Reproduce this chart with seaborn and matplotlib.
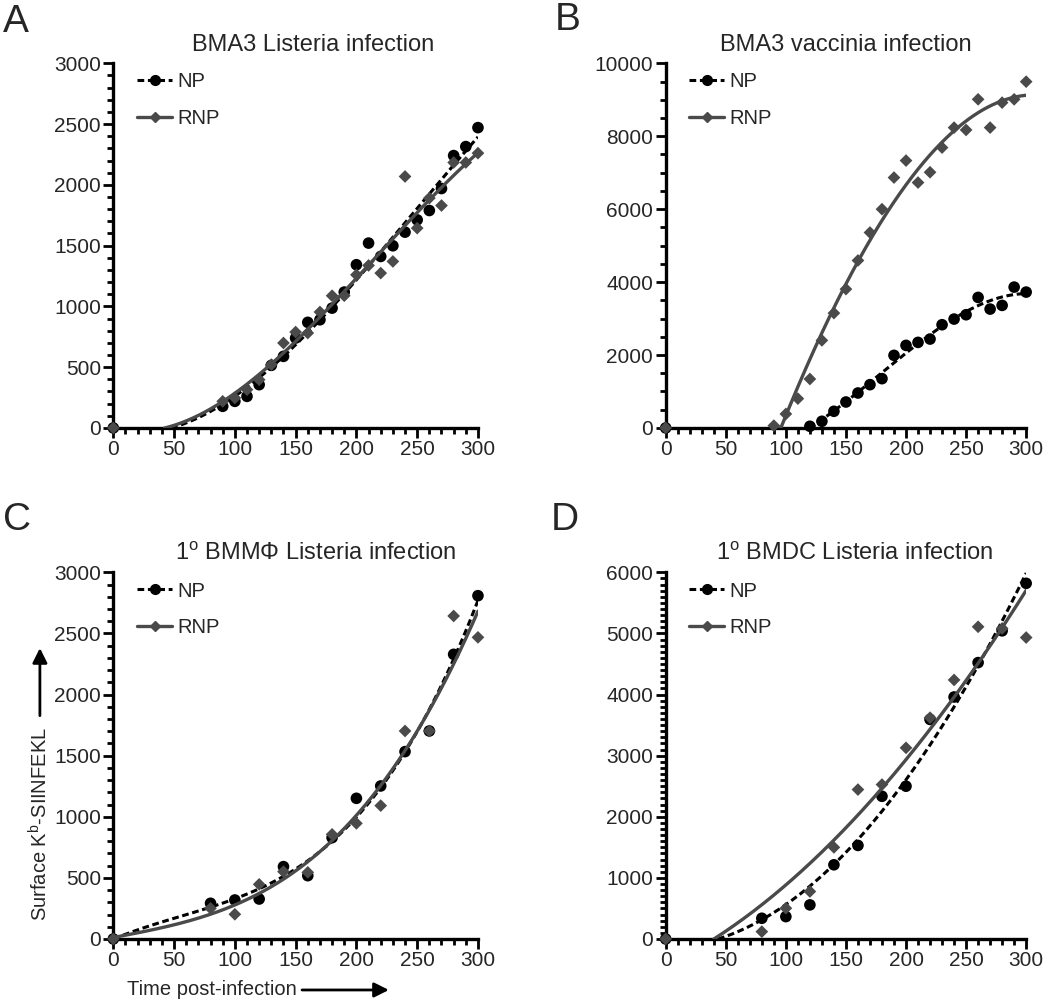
import numpy as np
import pandas as pd
import matplotlib
matplotlib.use("Agg")
import matplotlib.pyplot as plt
import seaborn as sns
from matplotlib.lines import Line2D
from matplotlib.ticker import MultipleLocator

sns.set_style("ticks")
plt.rcParams['font.family'] = ['Liberation Sans', 'DejaVu Sans']
plt.rcParams['mathtext.fontset'] = 'custom'
plt.rcParams['mathtext.rm'] = 'Liberation Sans'
plt.rcParams['mathtext.it'] = 'Liberation Sans:italic'

# ---- data ----
a_time = [0, 90, 100, 110, 120, 130, 140, 150, 160, 170, 180, 190, 200, 210, 220, 230, 240, 250, 260, 270, 280, 290, 300]
a_np = [0, 178, 219, 260, 356, 515, 589, 740, 869, 890, 986, 1118, 1343, 1521, 1411, 1499, 1611, 1712, 1789, 1970, 2241, 2315, 2471]
a_rnp = [0, 219, 247, 315, 397, 521, 699, 789, 781, 954, 1088, 1088, 1260, 1337, 1274, 1370, 2069, 1644, 1891, 1830, 2184, 2184, 2261]

b_time_np = [0, 120, 130, 140, 150, 160, 170, 180, 190, 200, 210, 220, 230, 240, 250, 260, 270, 280, 290, 300]
b_np = [0, 46, 183, 457, 712, 959, 1187, 1352, 1991, 2265, 2347, 2438, 2831, 2986, 3105, 3580, 3260, 3361, 3863, 3726]
b_time_rnp = [0, 90, 100, 110, 120, 130, 140, 150, 160, 170, 180, 190, 200, 210, 220, 230, 240, 250, 260, 270, 280, 290, 300]
b_rnp = [0, 64, 384, 804, 1342, 2402, 3150, 3808, 4593, 5360, 6000, 6867, 7333, 6730, 7013, 7689, 8237, 8173, 9013, 8237, 8922, 9013, 9497]

c_time = [0, 80, 100, 120, 140, 160, 180, 200, 220, 240, 260, 280, 300]
c_np = [0, 292, 319, 327, 592, 518, 829, 1151, 1252, 1533, 1702, 2329, 2809]
c_rnp = [0, 251, 202, 447, 551, 545, 856, 946, 1091, 1702, 1702, 2643, 2468]

d_time = [0, 80, 100, 120, 140, 160, 180, 200, 220, 240, 260, 280, 300]
d_np = [0, 339, 366, 558, 1214, 1531, 2335, 2500, 3593, 3960, 4523, 5043, 5820]
d_rnp = [0, 120, 503, 777, 1499, 2445, 2527, 3128, 3621, 4239, 5109, 5082, 4933]

titles = ["BMA3 Listeria infection", "BMA3 vaccinia infection",
          r"1$^{\mathrm{o}}$ BMM$\Phi$ Listeria infection", r"1$^{\mathrm{o}}$ BMDC Listeria infection"]
letters = ["A", "B", "C", "D"]

NP_COLOR = "black"
RNP_COLOR = "#4a4a4a"


def fit_curve(x, y, deg, keep_zero=True):
    # polynomial fit, drawn from where it crosses zero
    x = np.asarray(x, float)
    y = np.asarray(y, float)
    m = np.ones_like(x, bool) if keep_zero else x > 0
    p = np.polyfit(x[m], y[m], deg)
    xs = np.linspace(0, 300, 601)
    ys = np.polyval(p, xs)
    first = x[x > 0].min()
    below = np.where((ys <= 0) & (xs < first))[0]
    start = below[-1] if len(below) else 0
    return xs[start:], np.clip(ys[start:], 0, None)


panels = [
    dict(np_x=a_time, np_y=a_np, rnp_x=a_time, rnp_y=a_rnp, ymax=3000, major=500, minor=100,
         fit_np=(3, True), fit_rnp=(3, True), tx=0.548),
    dict(np_x=b_time_np, np_y=b_np, rnp_x=b_time_rnp, rnp_y=b_rnp, ymax=10000, major=2000, minor=500,
         fit_np=(3, True), fit_rnp=(3, False), tx=0.5),
    dict(np_x=c_time, np_y=c_np, rnp_x=c_time, rnp_y=c_rnp, ymax=3000, major=500, minor=100,
         fit_np=(3, True), fit_rnp=(3, True), tx=0.555),
    dict(np_x=d_time, np_y=d_np, rnp_x=d_time, rnp_y=d_rnp, ymax=6000, major=1000, minor=100,
         fit_np=(2, True), fit_rnp=(2, True), tx=0.525),
]

positions = [
    [0.1079, 0.5729, 0.3473, 0.3639],
    [0.634, 0.5729, 0.3433, 0.3639],
    [0.1079, 0.0629, 0.3473, 0.3659],
    [0.634, 0.0629, 0.3433, 0.3659],
]
letter_pos = [(0.003, 0.978), (0.528, 0.98), (0.003, 0.481), (0.525, 0.481)]

fig = plt.figure(figsize=(10.5, 10.02), dpi=100)

for i, pn in enumerate(panels):
    ax = fig.add_axes(positions[i])
    df_np = pd.DataFrame({"time": pn["np_x"], "value": pn["np_y"]})
    df_rnp = pd.DataFrame({"time": pn["rnp_x"], "value": pn["rnp_y"]})

    fx, fy = fit_curve(pn["np_x"], pn["np_y"], *pn["fit_np"])
    rx, ry = fit_curve(pn["rnp_x"], pn["rnp_y"], *pn["fit_rnp"])

    sns.scatterplot(data=df_np, x="time", y="value", ax=ax, color=NP_COLOR, marker="o",
                    s=70, edgecolor="none", clip_on=False, zorder=3, legend=False)
    ax.plot(fx, fy, color=NP_COLOR, lw=2.2, linestyle=(0, (2.2, 1.2)), zorder=4)
    sns.scatterplot(data=df_rnp, x="time", y="value", ax=ax, color=RNP_COLOR, marker="D",
                    s=42, edgecolor="none", clip_on=False, zorder=5, legend=False)
    ax.plot(rx, ry, color=RNP_COLOR, lw=2.4, zorder=6)

    ax.set_xlim(0, 300)
    ax.set_ylim(0, pn["ymax"])
    ax.xaxis.set_major_locator(MultipleLocator(50))
    ax.xaxis.set_minor_locator(MultipleLocator(10))
    ax.yaxis.set_major_locator(MultipleLocator(pn["major"]))
    ax.yaxis.set_minor_locator(MultipleLocator(pn["minor"]))
    ax.tick_params(which="major", length=7, width=2, labelsize=15, pad=2, color="black")
    ax.tick_params(which="minor", length=4, width=2, color="black")
    ax.set_xlabel("")
    ax.set_ylabel("")
    sns.despine(ax=ax)
    for s in ["left", "bottom"]:
        ax.spines[s].set_linewidth(2.4)
        ax.spines[s].set_color("black")

    ax.text(pn["tx"], 1.05, titles[i], transform=ax.transAxes, ha="center", va="center", fontsize=17)

    handles = [
        Line2D([], [], color=NP_COLOR, lw=2.2, linestyle=(0, (2.2, 1.2)), marker="o", markersize=7),
        Line2D([], [], color=RNP_COLOR, lw=2.4, marker="D", markersize=5),
    ]
    ax.legend(handles, ["NP", "RNP"], loc="upper left", bbox_to_anchor=(0.065, 0.975), frameon=False,
              fontsize=14.5, handlelength=1.75, handletextpad=0.25, labelspacing=0.85,
              borderpad=0, borderaxespad=0)

    fig.text(letter_pos[i][0], letter_pos[i][1], letters[i], fontsize=28, ha="left", va="center")

# axis labels with arrows (only on panel C)
fig.text(0.038, 0.178, r"Surface K$^{\mathrm{b}}$-SIINFEKL", rotation=90, ha="center", va="center", fontsize=14.5)
fig.add_artist(matplotlib.patches.FancyArrowPatch((0.038, 0.283), (0.038, 0.356), transform=fig.transFigure,
                                                  arrowstyle="-|>", mutation_scale=22, lw=2, color="black"))
fig.text(0.202, 0.012, "Time post-infection", ha="center", va="center", fontsize=14.5)
fig.add_artist(matplotlib.patches.FancyArrowPatch((0.285, 0.012), (0.373, 0.012), transform=fig.transFigure,
                                                  arrowstyle="-|>", mutation_scale=22, lw=2, color="black"))

fig.savefig("out.png", dpi=100)
